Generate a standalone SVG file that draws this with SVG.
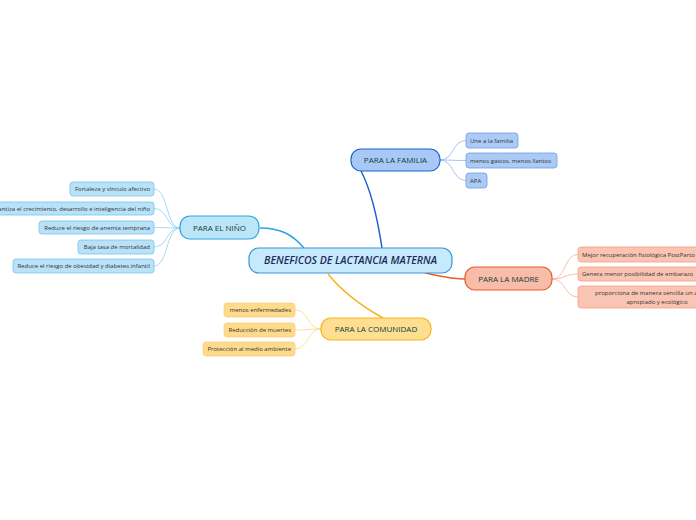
<svg xmlns="http://www.w3.org/2000/svg" width="696" height="520" viewBox="0 0 696 520">
<style>
text{font-family:"Open Sans","Liberation Sans",sans-serif;}
.main{font-size:8px;fill:#123c3c;text-anchor:middle;}
.sub{font-size:6px;fill:#333;}
.cen{font-size:10.5px;font-style:italic;font-weight:600;fill:#1c2b5a;text-anchor:middle;}
.c path{fill:none;}
.nino{fill:#bde5f8;stroke:#2aa5e3;stroke-width:1.2;}
.ninoc{fill:#b9e2f8;stroke:#72c6ee;stroke-width:0.8;}
.fam{fill:#a8c9f6;stroke:#1f61d1;stroke-width:1.2;}
.famc{fill:#abcbf6;stroke:#6e9ce9;stroke-width:0.8;}
.mad{fill:#f9bca9;stroke:#ea5a2f;stroke-width:1.2;}
.madc{fill:#fac4b3;stroke:#f69f86;stroke-width:0.8;}
.com{fill:#fede91;stroke:#f7b31c;stroke-width:1.2;}
.comc{fill:#fdda8c;stroke:#fbd17c;stroke-width:0.8;}
</style>
<rect width="696" height="520" fill="#ffffff"/>
<g id="connectors" class="c">
<path d="M260,228 C280,228 292,234 304,248" stroke="#2aa5e3" stroke-width="1.5"/>
<path d="M361,171 C371,190 377,215 382,248" stroke="#1f61d1" stroke-width="1.5"/>
<path d="M425,273 C440,276 452,279 465,279" stroke="#ea5a2f" stroke-width="1.5"/>
<path d="M328,274 C345,295 365,308 383,318" stroke="#f7b31c" stroke-width="1.5"/>
<g stroke="#8fd0f2" stroke-width="0.8">
<path d="M180,228 C166,228 168,189 154,189"/>
<path d="M180,228 C166,228 168,208.5 154,208.5"/>
<path d="M180,228 C166,228 168,227.5 154,227.5"/>
<path d="M180,228 C166,228 168,247 154,247"/>
<path d="M180,228 C166,228 168,266 154,266"/>
</g>
<g stroke="#8fb2ee" stroke-width="0.8">
<path d="M440,160 C454,160 452,140.5 466,140.5"/>
<path d="M440,160 C454,160 452,160.5 466,160.5"/>
<path d="M440,160 C454,160 452,180.5 466,180.5"/>
</g>
<g stroke="#f8ae98" stroke-width="0.8">
<path d="M552,279 C566,279 564,254.5 578,254.5"/>
<path d="M552,279 C566,279 564,274 578,274"/>
<path d="M552,279 C566,279 564,297 578,297"/>
</g>
<g stroke="#fcd889" stroke-width="0.8">
<path d="M321,329 C307,329 309,310 295,310"/>
<path d="M321,329 C307,329 309,330 295,330"/>
<path d="M321,329 C307,329 309,349 295,349"/>
</g>
</g>
<g id="central">
<rect x="249" y="248" width="203" height="25" rx="10" fill="#c6e9fb" stroke="#3b96d8" stroke-width="1.2"/>
<text class="cen" x="350.5" y="264.3">BENEFICOS DE LACTANCIA MATERNA</text>
</g>
<g id="nino">
<rect class="nino" x="180" y="216" width="79" height="23" rx="10"/>
<text class="main" x="219.5" y="230.5">PARA EL NIÑO</text>
</g>
<g id="nino1"><rect class="ninoc" x="70" y="182" width="84" height="14" rx="3"/><text class="sub" x="150" y="191.2" text-anchor="end">Fortaleza y vínculo afectivo</text></g>
<g id="nino2"><rect class="ninoc" x="-20" y="202" width="174" height="13" rx="3"/><text class="sub" x="150" y="210.7" text-anchor="end">Garantiza el crecimiento, desarrollo e inteligencia del niño</text></g>
<g id="nino3"><rect class="ninoc" x="39" y="221" width="115" height="13" rx="3"/><text class="sub" x="150" y="229.7" text-anchor="end">Reduce el riesgo de anemia temprana</text></g>
<g id="nino4"><rect class="ninoc" x="78" y="240" width="76" height="14" rx="3"/><text class="sub" x="150" y="249.2" text-anchor="end">Baja tasa de mortalidad</text></g>
<g id="nino5"><rect class="ninoc" x="13" y="259" width="141" height="14" rx="3"/><text class="sub" x="150" y="268.2" text-anchor="end">Reduce el riesgo de obesidad y diabetes infantil</text></g>
<g id="familia">
<rect class="fam" x="351" y="149" width="89" height="22" rx="10"/>
<text class="main" x="395.5" y="162.8">PARA LA FAMILIA</text>
</g>
<g id="familia1"><rect class="famc" x="466" y="133" width="52" height="15" rx="3"/><text class="sub" x="470" y="142.7">Une a la familia</text></g>
<g id="familia2"><rect class="famc" x="466" y="153" width="91" height="15" rx="3"/><text class="sub" x="470" y="162.7">menos gastos, menos llantos</text></g>
<g id="familia3"><rect class="famc" x="466" y="173" width="21" height="15" rx="3"/><text class="sub" x="470" y="182.7">APA</text></g>
<g id="madre">
<rect class="mad" x="465" y="267" width="87" height="23" rx="10"/>
<text class="main" x="508.5" y="281.5">PARA LA MADRE</text>
</g>
<g id="madre1"><rect class="madc" x="578" y="247" width="130" height="15" rx="3"/><text class="sub" x="582" y="256.7">Mejor recuperación fisiológica PostParto</text></g>
<g id="madre2"><rect class="madc" x="578" y="267" width="130" height="14" rx="3"/><text class="sub" x="582" y="276.2">Genera menor posibilidad de embarazo</text></g>
<g id="madre3"><rect class="madc" x="578" y="286" width="158" height="22" rx="3"/><text class="sub" x="657" y="295.2" text-anchor="middle">proporciona de manera sencilla un alimento</text><text class="sub" x="657" y="303.7" text-anchor="middle">apropiado y ecológico</text></g>
<g id="comunidad">
<rect class="com" x="321" y="318" width="110" height="22" rx="10"/>
<text class="main" x="376" y="331.8">PARA LA COMUNIDAD</text>
</g>
<g id="comunidad1"><rect class="comc" x="224" y="303" width="71" height="14" rx="3"/><text class="sub" x="291" y="312.2" text-anchor="end">menos enfermedades</text></g>
<g id="comunidad2"><rect class="comc" x="224" y="323" width="71" height="14" rx="3"/><text class="sub" x="291" y="332.2" text-anchor="end">Reducción de muertes</text></g>
<g id="comunidad3"><rect class="comc" x="203" y="342" width="92" height="14" rx="3"/><text class="sub" x="291" y="351.2" text-anchor="end">Protección al medio ambiente</text></g>
</svg>
